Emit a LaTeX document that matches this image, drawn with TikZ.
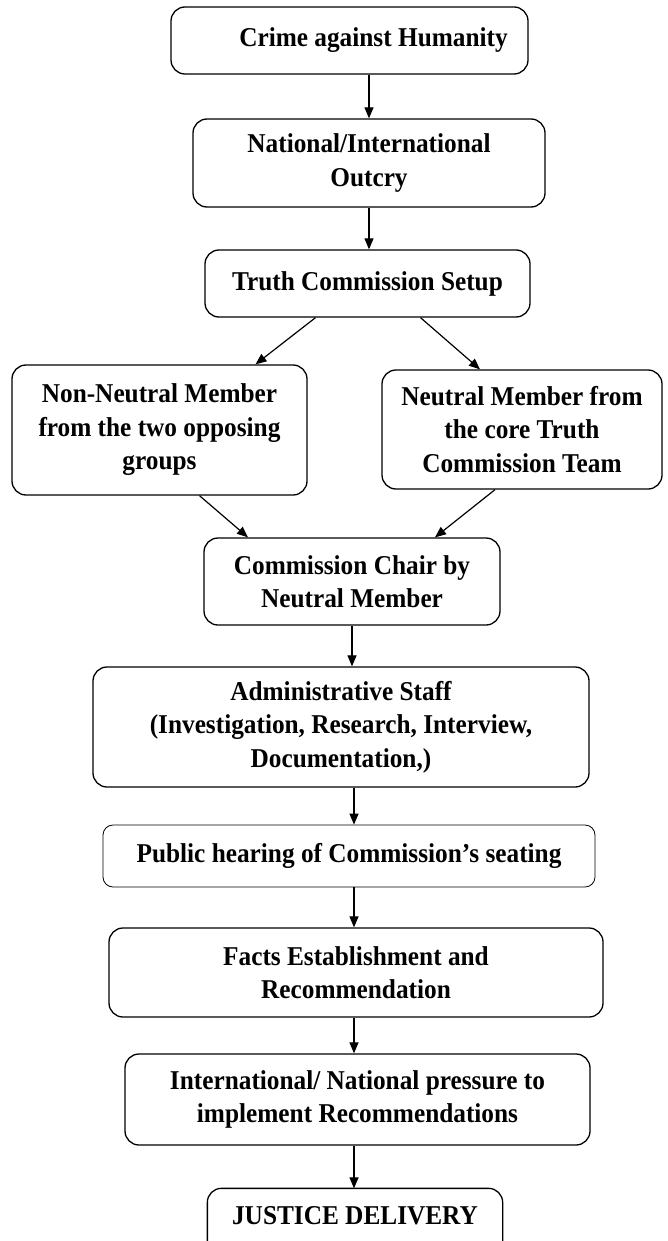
\documentclass[tikz,border=0pt]{standalone}
\usepackage{fontspec}
\setmainfont{Liberation Serif}[FakeStretch=0.93]
\usetikzlibrary{arrows.meta,calc}
\begin{document}
\begin{tikzpicture}[x=1pt,y=-1pt,
  box/.style={draw, line width=1.3pt, rounded corners=14pt, align=center,
    font=\bfseries\fontsize{27.2}{33.5}\selectfont, inner sep=0pt},
  thinbox/.style={box, line width=0.8pt, rounded corners=10pt},
  textonly/.style={box, draw=none},
  arr/.style={line width=1.2pt, -{Triangle[length=11pt,width=9pt]}}]
\useasboundingbox (0,0) rectangle (667,1241);
\clip (0,0) rectangle (667,1241);

\node[box, minimum width=357, minimum height=67] (crime) at (349.5,40.5) {\hspace*{48pt}Crime against Humanity};
\node[box, minimum width=352, minimum height=88] (national) at (369,163) {National/International\\Outcry};
\node[box, minimum width=325, minimum height=67] (truth) at (367.5,283.5) {Truth Commission Setup};
\node[box, minimum width=295, minimum height=130] (left) at (159.5,430) {Non-Neutral Member\\from the two opposing\\groups};
\node[box, minimum width=280, minimum height=119] (right) at (522,429.5) {Neutral Member from\\the core Truth\\Commission Team};
\node[box, minimum width=296, minimum height=87] (chair) at (352,581.5) {Commission Chair by\\Neutral Member};
\node[box, minimum width=496, minimum height=120] (admin) at (341,727) {Administrative Staff\\(Investigation, Research, Interview,\\Documentation,)};
\node[thinbox, minimum width=492, minimum height=62] (public) at (349,856) {Public hearing of Commission’s seating};
\node[box, minimum width=494, minimum height=89] (facts) at (356,972.5) {Facts Establishment and\\Recommendation};
\node[box, minimum width=465, minimum height=91] (pressure) at (357.5,1099.5) {International/ National pressure to\\implement Recommendations};
\node[textonly, minimum width=294, minimum height=54] (justice) at (355,1216) {JUSTICE DELIVERY};
\draw[line width=1.3pt, rounded corners=14pt]
  ([yshift=-40pt]justice.south west) -- (justice.north west) -- (justice.north east) -- ([yshift=-40pt]justice.south east);

\draw[arr] ([xshift=19.5pt]crime.south) -- ([xshift=19.5pt]crime.south |- national.north);
\draw[arr] (national.south) -- (national.south |- truth.north);
\draw[arr] ([xshift=-52pt]truth.south) -- ([xshift=96pt]left.north);
\draw[arr] ([xshift=53pt]truth.south) -- ([xshift=-42pt]right.north);
\draw[arr] ([xshift=40pt]left.south) -- ([xshift=-104pt]chair.north);
\draw[arr] ([xshift=-27pt]right.south) -- ([xshift=83pt]chair.north);
\draw[arr] (chair.south) -- (chair.south |- admin.north);
\draw[arr] ([xshift=13pt]admin.south) -- ([xshift=13pt]admin.south |- public.north);
\draw[arr] ([xshift=5pt]public.south) -- ([xshift=5pt]public.south |- facts.north);
\draw[arr] ([xshift=-2pt]facts.south) -- ([xshift=-2pt]facts.south |- pressure.north);
\draw[arr] ([xshift=-3.5pt]pressure.south) -- ([xshift=-3.5pt]pressure.south |- justice.north);
\end{tikzpicture}
\end{document}
